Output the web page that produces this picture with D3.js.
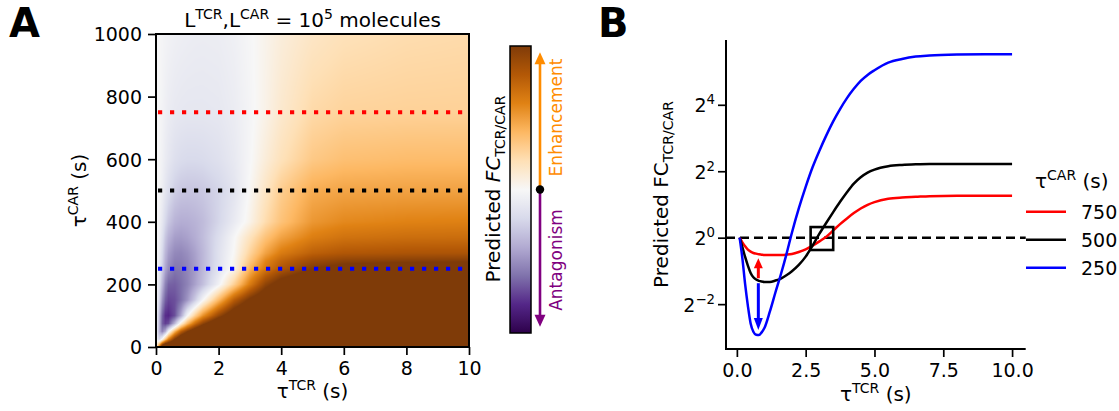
<!DOCTYPE html>
<html>
<head>
<meta charset="utf-8">
<script src="https://cdn.jsdelivr.net/npm/d3@7"></script>
<style>
  body { margin: 0; background: #fff; }
  svg { display: block; }
  text { font-family: "DejaVu Sans", sans-serif; fill: #000; }
</style>
</head>
<body>
<svg id="fig" width="1119" height="411"></svg>
<script>
// ---------------- Panel A: predicted log2 fold change over (tauTCR, tauCAR) ----------------
const tauTCRGrid = [0, 0.1, 0.2, 0.3, 0.4, 0.6, 0.8, 1.0, 1.25, 1.5, 2.0, 2.5, 3.0, 3.5, 4, 5, 6, 8, 10];
const tauCARGrid = [0, 25, 50, 75, 100, 150, 200, 250, 275, 300, 350, 400, 500, 600, 750, 1000];
// one row per tauCAR value, one column per tauTCR value (log2 FC)
const log2FCGrid = [
  [0, 3.0, 6.0, 7.0, 7.0, 7.0, 7.0, 7.0, 7.0, 7.0, 7.0, 7.0, 7.0, 7.0, 7.0, 7.0, 7.0, 7.0, 7.0],
  [0, -1.0, 0.0, 1.5, 2.8, 4.6, 5.8, 6.5, 7.0, 7.0, 7.0, 7.0, 7.0, 7.0, 7.0, 7.0, 7.0, 7.0, 7.0],
  [0, -1.6, -2.5, -1.8, -0.2, 1.9, 3.5, 4.5, 5.5, 6.3, 7.0, 7.0, 7.0, 7.0, 7.0, 7.0, 7.0, 7.0, 7.0],
  [0, -1.5, -3.0, -3.4, -3.2, -1.6, 0.4, 1.8, 3.2, 4.3, 5.8, 6.5, 7.0, 7.0, 7.0, 7.0, 7.0, 7.0, 7.0],
  [0, -1.4, -2.9, -3.6, -3.7, -3.2, -1.9, -0.1, 1.3, 2.5, 4.2, 5.5, 6.2, 6.6, 6.8, 7.0, 7.0, 7.0, 7.0],
  [0, -0.9, -2.2, -3.0, -3.3, -3.2, -2.8, -2.2, -1.2, -0.05, 1.8, 3.6, 4.8, 5.6, 6.0, 6.4, 6.5, 6.5, 6.5],
  [0, -0.6, -1.6, -2.5, -2.95, -3.0, -2.8, -2.5, -2.0, -1.45, -0.2, 1.3, 2.9, 4.3, 5.1, 5.8, 6.0, 6.1, 6.1],
  [0, -0.4, -1.15, -1.9, -2.35, -2.7, -2.65, -2.45, -2.1, -1.6, -0.65, 0.2, 1.9, 3.0, 3.75, 4.6, 5.0, 5.3, 5.4],
  [0, -0.35, -1.0, -1.75, -2.2, -2.55, -2.55, -2.4, -2.05, -1.6, -0.7, 0.15, 1.5, 2.7, 3.4, 4.1, 4.35, 4.45, 4.5],
  [0, -0.3, -0.9, -1.6, -2.05, -2.4, -2.45, -2.3, -2.0, -1.6, -0.7, 0.05, 1.2, 2.2, 2.9, 3.5, 3.72, 3.8, 3.82],
  [0, -0.2, -0.7, -1.3, -1.7, -2.05, -2.1, -2.0, -1.8, -1.5, -0.8, -0.05, 0.8, 1.6, 2.2, 2.85, 3.1, 3.2, 3.22],
  [0, -0.15, -0.5, -0.95, -1.3, -1.68, -1.8, -1.78, -1.68, -1.52, -1.0, -0.4, 0.2, 1.0, 1.6, 2.4, 2.65, 2.76, 2.8],
  [0, -0.05, -0.28, -0.55, -0.8, -1.13, -1.29, -1.33, -1.32, -1.27, -1.02, -0.6, 0.05, 0.72, 1.35, 2.03, 2.17, 2.21, 2.22],
  [0, -0.05, -0.2, -0.38, -0.52, -0.74, -0.85, -0.9, -0.9, -0.87, -0.72, -0.45, -0.05, 0.42, 0.85, 1.45, 1.66, 1.74, 1.75],
  [0, -0.04, -0.14, -0.26, -0.36, -0.46, -0.5, -0.52, -0.52, -0.52, -0.49, -0.35, -0.1, 0.22, 0.58, 1.07, 1.21, 1.25, 1.26],
  [0, -0.03, -0.09, -0.14, -0.18, -0.24, -0.28, -0.31, -0.34, -0.35, -0.33, -0.24, -0.05, 0.18, 0.4, 0.7, 0.87, 0.99, 1.04]
];
const heatXTicks = [0, 2, 4, 6, 8, 10];
const heatYTicks = [0, 200, 400, 600, 800, 1000];
const colorLimit = 4.6;                 // symmetric log2 FC colour range
const cutTauCAR = [750, 500, 250];      // horizontal cuts, shown in panel B
const cutColors = ["#ff0000", "#000000", "#0000ff"];

// ---------------- Panel B: log2 FC along the cuts ----------------
const tauTCRPts = [0.1, 0.2, 0.3, 0.4, 0.5, 0.6, 0.7, 0.8, 0.9, 1.0, 1.2, 1.4, 1.6, 1.8, 2.0, 2.25, 2.5, 2.75,
                   3.0, 3.25, 3.5, 3.75, 4.0, 4.25, 4.5, 4.75, 5.0, 5.5, 6.0, 6.5, 7.0, 8.0, 9.0, 10.0];
const log2FC750 = [0, -0.14, -0.26, -0.36, -0.42, -0.46, -0.48, -0.5, -0.51, -0.52, -0.52, -0.52, -0.52, -0.51, -0.49, -0.43, -0.35, -0.24,
                   -0.11, 0.03, 0.22, 0.41, 0.58, 0.74, 0.88, 0.99, 1.07, 1.17, 1.21, 1.23, 1.25, 1.26, 1.26, 1.26];
const log2FC500 = [0, -0.28, -0.58, -0.84, -1.06, -1.19, -1.26, -1.3, -1.32, -1.33, -1.33, -1.29, -1.23, -1.13, -1.01, -0.82, -0.57, -0.24,
                   0.12, 0.45, 0.77, 1.08, 1.37, 1.63, 1.82, 1.96, 2.05, 2.15, 2.19, 2.21, 2.22, 2.22, 2.22, 2.22];
const log2FC250 = [0, -0.62, -1.4, -2.05, -2.58, -2.83, -2.92, -2.93, -2.85, -2.72, -2.22, -1.65, -1.1, -0.5, 0.15, 0.88, 1.53, 2.12,
                   2.62, 3.08, 3.5, 3.87, 4.2, 4.48, 4.72, 4.9, 5.04, 5.27, 5.38, 5.45, 5.48, 5.51, 5.52, 5.52];
const curveSeries = [
  { tauCAR: "750", color: "#ff0000", values: log2FC750 },
  { tauCAR: "500", color: "#000000", values: log2FC500 },
  { tauCAR: "250", color: "#0000ff", values: log2FC250 }
];
const lineXTicks = [0, 2.5, 5, 7.5, 10];
const lineYTicks = [-2, 0, 2, 4];
// arrows at tauTCR = 0.78 marking the shift of the minimum (log2 units)
const shiftArrows = [
  { x: 0.78, from: -1.22, to: -0.62, color: "#ff0000" },
  { x: 0.78, from: -1.37, to: -2.78, color: "#0000ff" }
];
const crossBox = { x0: 2.68, x1: 3.5, y0: -0.37, y1: 0.32 };

// ---------------- helpers ----------------
const svg = d3.select("#fig");
const puOr = ["#2d004b", "#542788", "#8073ac", "#b2abd2", "#d8daeb", "#f7f7f7",
              "#fee0b6", "#fdb863", "#e08214", "#b35806", "#7f3b08"];
const cmap = d3.piecewise(d3.interpolateRgb, puOr);
const norm = d3.scaleLinear().domain([-colorLimit, colorLimit]).range([0, 1]).clamp(true);

// text with super/subscripts: parts = [{t, s: "sup"|"sub", it}]
function rich(sel, parts, fs) {
  let shift = 0;
  parts.forEach(p => {
    let target = 0, size = fs;
    if (p.s === "sup") { target = -0.42 * fs; size = 0.7 * fs; }
    if (p.s === "sub") { target = 0.24 * fs; size = 0.7 * fs; }
    const span = sel.append("tspan").text(p.t).attr("font-size", size).attr("dy", target - shift);
    if (p.it) span.attr("font-style", "italic");
    shift = target;
  });
  return sel;
}
function arrowHead(g, x, yTip, dir, len, half, color) {
  // dir = -1 pointing up, +1 pointing down
  const yb = yTip - dir * len;
  g.append("path")
    .attr("d", `M${x},${yTip} L${x - half},${yb} L${x + half},${yb} Z`)
    .attr("fill", color);
}

const FS_TICK = 19, FS_LABEL = 20;

// ======================= Panel A =======================
const xA = d3.scaleLinear().domain([0, 10]).range([156, 469]);
const yA = d3.scaleLinear().domain([0, 1000]).range([347, 34]);

(function drawHeatmap() {
  const x0 = xA.range()[0], x1 = xA.range()[1];
  const y0 = yA.range()[1], y1 = yA.range()[0];
  const W = Math.round(x1 - x0), H = Math.round(y1 - y0);
  const canvas = document.createElement("canvas");
  canvas.width = W; canvas.height = H;
  const ctx = canvas.getContext("2d");
  const img = ctx.createImageData(W, H);
  function cell(grid, v) {
    let i = d3.bisectRight(grid, v) - 1;
    i = Math.max(0, Math.min(grid.length - 2, i));
    const f = Math.max(0, Math.min(1, (v - grid[i]) / (grid[i + 1] - grid[i])));
    return [i, f];
  }
  for (let py = 0; py < H; py++) {
    const tc = yA.invert(y0 + py + 0.5);
    const [j, fy] = cell(tauCARGrid, tc);
    for (let px = 0; px < W; px++) {
      const tt = xA.invert(x0 + px + 0.5);
      const [i, fx] = cell(tauTCRGrid, tt);
      const a = log2FCGrid[j][i], b = log2FCGrid[j][i + 1];
      const c = log2FCGrid[j + 1][i], d = log2FCGrid[j + 1][i + 1];
      const v = (a * (1 - fx) + b * fx) * (1 - fy) + (c * (1 - fx) + d * fx) * fy;
      const col = d3.rgb(cmap(norm(v)));
      const k = (py * W + px) * 4;
      img.data[k] = col.r; img.data[k + 1] = col.g; img.data[k + 2] = col.b; img.data[k + 3] = 255;
    }
  }
  ctx.putImageData(img, 0, 0);
  svg.append("image")
    .attr("href", canvas.toDataURL())
    .attr("x", x0).attr("y", y0).attr("width", W).attr("height", H)
    .attr("preserveAspectRatio", "none");
})();

// dotted cut lines
svg.append("g").selectAll("line").data(cutTauCAR).join("line")
  .attr("x1", xA(0)).attr("x2", xA(10))
  .attr("y1", d => yA(d)).attr("y2", d => yA(d))
  .attr("stroke", (d, i) => cutColors[i])
  .attr("stroke-width", 4.2)
  .attr("stroke-dasharray", "4.2,7.8")
  .attr("stroke-dashoffset", -2);

// frame
svg.append("rect")
  .attr("x", xA(0)).attr("y", yA(1000))
  .attr("width", xA(10) - xA(0)).attr("height", yA(0) - yA(1000))
  .attr("fill", "none").attr("stroke", "#000").attr("stroke-width", 2);

// axes
function styleAxis(g) {
  g.select(".domain").remove();
  g.selectAll(".tick line").attr("stroke", "#000").attr("stroke-width", 1.7);
  g.selectAll(".tick text").attr("font-size", FS_TICK).attr("font-family", "DejaVu Sans").attr("fill", "#000");
}
svg.append("g").attr("transform", `translate(0,${yA(0)})`)
  .call(d3.axisBottom(xA).tickValues(heatXTicks).tickFormat(d3.format("d")).tickSize(8).tickPadding(7))
  .call(styleAxis);
svg.append("g").attr("transform", `translate(${xA(0)},0)`)
  .call(d3.axisLeft(yA).tickValues(heatYTicks).tickFormat(d3.format("d")).tickSize(8).tickPadding(6))
  .call(styleAxis)
  .call(g => g.selectAll(".tick text").attr("dy", "0.36em"));

// title and labels
rich(svg.append("text").attr("x", (xA(0) + xA(10)) / 2).attr("y", 27).attr("text-anchor", "middle").attr("font-size", FS_LABEL),
  [{ t: "L" }, { t: "TCR", s: "sup" }, { t: ",L" }, { t: "CAR", s: "sup" }, { t: " = 10" }, { t: "5", s: "sup" }, { t: " molecules" }], FS_LABEL);
rich(svg.append("text").attr("x", (xA(0) + xA(10)) / 2).attr("y", 398).attr("text-anchor", "middle").attr("font-size", FS_LABEL),
  [{ t: "τ" }, { t: "TCR", s: "sup" }, { t: " (s)" }], FS_LABEL);
rich(svg.append("text").attr("transform", `translate(86,${(yA(0) + yA(1000)) / 2}) rotate(-90)`).attr("text-anchor", "middle").attr("font-size", FS_LABEL),
  [{ t: "τ" }, { t: "CAR", s: "sup" }, { t: " (s)" }], FS_LABEL);

// panel letters
svg.append("text").attr("x", 9).attr("y", 37).attr("font-size", 40).attr("font-weight", "bold").text("A");
svg.append("text").attr("x", 598).attr("y", 37).attr("font-size", 40).attr("font-weight", "bold").text("B");

// ---------------- colour bar ----------------
const cb = { x: 510, w: 21 };
const yCB = d3.scaleLinear().domain([-colorLimit, colorLimit]).range([333, 46]);
const defs = svg.append("defs");
const grad = defs.append("linearGradient").attr("id", "cbGrad")
  .attr("x1", 0).attr("y1", 1).attr("x2", 0).attr("y2", 0);
d3.range(0, 41).forEach(k => {
  const t = k / 40;
  grad.append("stop").attr("offset", t).attr("stop-color", cmap(t));
});
svg.append("rect").attr("x", cb.x).attr("y", yCB(colorLimit))
  .attr("width", cb.w).attr("height", yCB(-colorLimit) - yCB(colorLimit))
  .attr("fill", "url(#cbGrad)").attr("stroke", "#000").attr("stroke-width", 1.5);
rich(svg.append("text").attr("transform", `translate(500,189) rotate(-90)`).attr("text-anchor", "middle").attr("font-size", FS_LABEL),
  [{ t: "Predicted " }, { t: "FC", it: true }, { t: "TCR/CAR", s: "sub" }], FS_LABEL);

const arrowX = 540;
const enhColor = "#ff8c00", antColor = "#800080";
const ga = svg.append("g");
ga.append("line").attr("x1", arrowX).attr("x2", arrowX).attr("y1", yCB(0)).attr("y2", yCB(4.4) + 10)
  .attr("stroke", enhColor).attr("stroke-width", 2.6);
arrowHead(ga, arrowX, yCB(4.4), -1, 12, 5.5, enhColor);
ga.append("line").attr("x1", arrowX).attr("x2", arrowX).attr("y1", yCB(0)).attr("y2", yCB(-4.4) - 10)
  .attr("stroke", antColor).attr("stroke-width", 2.6);
arrowHead(ga, arrowX, yCB(-4.4), 1, 12, 5.5, antColor);
ga.append("circle").attr("cx", arrowX).attr("cy", yCB(0)).attr("r", 4.2).attr("fill", "#000");
svg.append("text").attr("transform", "translate(561.5,117.5) rotate(-90)").attr("text-anchor", "middle")
  .attr("font-size", 17).style("fill", enhColor).text("Enhancement");
svg.append("text").attr("transform", "translate(561.5,260) rotate(-90)").attr("text-anchor", "middle")
  .attr("font-size", 17).style("fill", antColor).text("Antagonism");

// ======================= Panel B =======================
const xB = d3.scaleLinear().domain([-0.395, 10.495]).range([726, 1025.7]);
const yB = d3.scaleLinear().domain([-3.35, 5.95]).range([349, 40]);

// reference line at FC = 1
svg.append("line").attr("x1", xB.range()[0]).attr("x2", xB.range()[1])
  .attr("y1", yB(0)).attr("y2", yB(0))
  .attr("stroke", "#000").attr("stroke-width", 2.5).attr("stroke-dasharray", "9,5");

const line = d3.line().x((d, i) => xB(tauTCRPts[i])).y(d => yB(d)).curve(d3.curveMonotoneX);
svg.append("g").selectAll("path").data(curveSeries).join("path")
  .attr("d", d => line(d.values))
  .attr("fill", "none").attr("stroke", d => d.color).attr("stroke-width", 2.5);

// shift arrows
const gs = svg.append("g");
shiftArrows.forEach(a => {
  const dir = a.to > a.from ? -1 : 1;       // up if value increases
  const tip = yB(a.to);
  const headLen = dir < 0 ? 10 : 12;
  gs.append("line").attr("x1", xB(a.x)).attr("x2", xB(a.x))
    .attr("y1", yB(a.from)).attr("y2", tip - dir * (headLen - 1))
    .attr("stroke", a.color).attr("stroke-width", 3);
  arrowHead(gs, xB(a.x), tip, dir, headLen, 4.5, a.color);
});

// box around the crossing point
svg.append("rect")
  .attr("x", xB(crossBox.x0)).attr("y", yB(crossBox.y1))
  .attr("width", xB(crossBox.x1) - xB(crossBox.x0)).attr("height", yB(crossBox.y0) - yB(crossBox.y1))
  .attr("fill", "none").attr("stroke", "#000").attr("stroke-width", 2.6);

// spines
svg.append("line").attr("x1", xB.range()[0]).attr("x2", xB.range()[0]).attr("y1", yB.range()[1]).attr("y2", yB.range()[0] + 1)
  .attr("stroke", "#000").attr("stroke-width", 2);
svg.append("line").attr("x1", xB.range()[0] - 1).attr("x2", xB.range()[1]).attr("y1", yB.range()[0]).attr("y2", yB.range()[0])
  .attr("stroke", "#000").attr("stroke-width", 2);

svg.append("g").attr("transform", `translate(0,${yB.range()[0]})`)
  .call(d3.axisBottom(xB).tickValues(lineXTicks).tickFormat(d3.format(".1f")).tickSize(8).tickPadding(7))
  .call(styleAxis);
svg.append("g").attr("transform", `translate(${xB.range()[0]},0)`)
  .call(d3.axisLeft(yB).tickValues(lineYTicks).tickFormat(() => "").tickSize(8).tickPadding(3))
  .call(styleAxis)
  .call(g => g.selectAll(".tick text").each(function (d) {
    const t = d3.select(this).attr("dy", null).attr("y", 7);
    t.append("tspan").text("2");
    t.append("tspan").text(d < 0 ? "−" + Math.abs(d) : String(d))
      .attr("font-size", 0.7 * FS_TICK).attr("dy", -0.42 * FS_TICK);
  }));

rich(svg.append("text").attr("x", (xB.range()[0] + xB.range()[1]) / 2).attr("y", 401).attr("text-anchor", "middle").attr("font-size", FS_LABEL),
  [{ t: "τ" }, { t: "TCR", s: "sup" }, { t: " (s)" }], FS_LABEL);
rich(svg.append("text").attr("transform", `translate(668,${(yB.range()[0] + yB.range()[1]) / 2}) rotate(-90)`).attr("text-anchor", "middle").attr("font-size", FS_LABEL),
  [{ t: "Predicted FC" }, { t: "TCR/CAR", s: "sub" }], FS_LABEL);

// legend
const lg = svg.append("g");
rich(lg.append("text").attr("x", 1035).attr("y", 188).attr("font-size", FS_LABEL),
  [{ t: "τ" }, { t: "CAR", s: "sup" }, { t: " (s)" }], FS_LABEL);
curveSeries.forEach((s, i) => {
  const y = 211.7 + i * 28;
  lg.append("line").attr("x1", 1026).attr("x2", 1066).attr("y1", y).attr("y2", y)
    .attr("stroke", s.color).attr("stroke-width", 2.5);
  lg.append("text").attr("x", 1081).attr("y", y + 7).attr("font-size", FS_TICK).text(s.tauCAR);
});
</script>
</body>
</html>
